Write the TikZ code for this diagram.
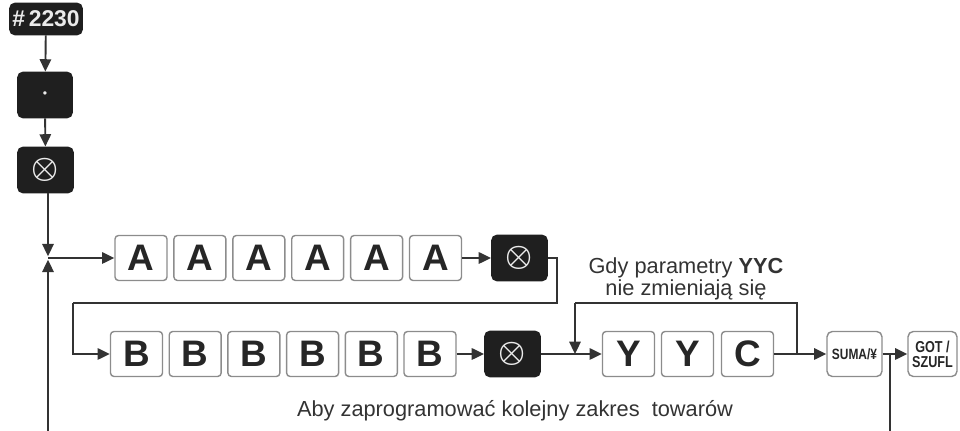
\documentclass[tikz,border=0pt]{standalone}
\usepackage{fontspec}
\setmainfont{Liberation Sans}
\newfontfamily\condfont[FakeStretch=0.8]{Liberation Sans}
\usetikzlibrary{calc,positioning,arrows.meta}

\newcommand{\xkeysym}{{\fontsize{18}{18}\selectfont\boldmath$\otimes$}}

\begin{document}
\begin{tikzpicture}[x=0.02cm, y=-0.02cm, line width=1.1pt,
    flow/.style={draw=black!80, -{Triangle[length=7pt,width=6.5pt]}},
    wire/.style={draw=black!80},
    letterkey/.style={draw=black!45, line width=0.8pt, rounded corners=2pt, fill=white,
        minimum width=1.04cm, minimum height=0.9cm, inner sep=0pt,
        font=\fontsize{21}{21}\selectfont\bfseries, text=black!85},
    darkkey/.style={fill=black!88, draw=black!88, rounded corners=3pt,
        minimum width=1.1cm, minimum height=0.9cm, inner sep=0pt, text=black!8},
    funckey/.style={draw=black!45, line width=0.8pt, rounded corners=3pt,
        minimum height=0.9cm, inner sep=0pt, align=center, text=black!85,
        font=\condfont\fontsize{9}{8.5}\selectfont\bfseries},
    note/.style={font=\fontsize{12.4}{12.5}\selectfont, text=black!80, align=center}]

        % Page
        \useasboundingbox (0,0) rectangle (960,431);

        % Opening keys
        \node[darkkey, minimum width=1.44cm, minimum height=0.62cm,
              font=\fontsize{13}{13}\selectfont\bfseries] (start) at (46,19) {\#\,2230};
        \node[darkkey, minimum width=1.08cm] (dotkey) at (45,95) {\scriptsize\textbullet};
        \node[darkkey] (xa) at (45.5,170) {\xkeysym};
        \coordinate (join) at (48,258);

        % First row: A keys
        \foreach \i in {1,...,6} {
            \node[letterkey] (a\i) at ({141+58.9*(\i-1)},258) {A};
        }
        \node[darkkey] (xb) at (519.5,258) {\xkeysym};

        % Second row: B keys
        \foreach \i in {1,...,6} {
            \node[letterkey] (b\i) at ({136.5+58.7*(\i-1)},354) {B};
        }
        \node[darkkey] (xc) at (512.5,354) {\xkeysym};

        % YYC keys and closing keys
        \node[letterkey] (y1) at (628.5,354) {Y};
        \node[letterkey] (y2) at (687.5,354) {Y};
        \node[letterkey] (c) at (747.5,354) {C};
        \node[funckey, minimum width=1.1cm, font=\condfont\fontsize{8.5}{8.5}\selectfont\bfseries] (suma) at (854.5,354) {SUMA/¥};
        \node[funckey, minimum width=0.98cm] (got) at (932.5,354) {GOT /\\SZUFL};

        % Arrows down the left side
        \draw[flow] (start) -- (dotkey);
        \draw[flow] (dotkey) -- (xa);
        \draw[flow, shorten >=1pt] (xa.south -| join) -- (join);
        \draw[flow] (join) -- (a1);
        \draw[flow] (a6) -- (xb);

        % Wrap to second row
        \coordinate (wrapr) at (557,303);
        \coordinate (wrapl) at (73,303);
        \draw[wire] (xb.east) -| (wrapr) -- (wrapl);
        \draw[flow] (wrapl) |- (b1);
        \draw[flow] (b6) -- (xc);
        \draw[flow] (xc) -- (y1);
        \draw[flow] (c) -- (suma);
        \draw[flow] (suma) -- (got);

        % Skip YYC
        \coordinate (skipr) at (797,303);
        \coordinate (skipl) at (575,303);
        \draw[wire] (skipr |- c.east) -- (skipr) -- (skipl);
        \draw[flow] (skipl) -- (skipl |- y1.west);

        % Back to the next range
        \coordinate (backr) at (890,431);
        \coordinate (backl) at (48,431);
        \draw[wire] (backr |- suma.east) -- (backr);
        \draw[flow, shorten >=1pt] (backl) -- (join);

        % Notes
        \node[note] (same) at (686,279) {Gdy parametry \textbf{YYC}\\nie zmieniają się};
        \node[note] (again) at (515,411) {Aby zaprogramować kolejny zakres\ \ towarów};
    \end{tikzpicture}
\end{document}
